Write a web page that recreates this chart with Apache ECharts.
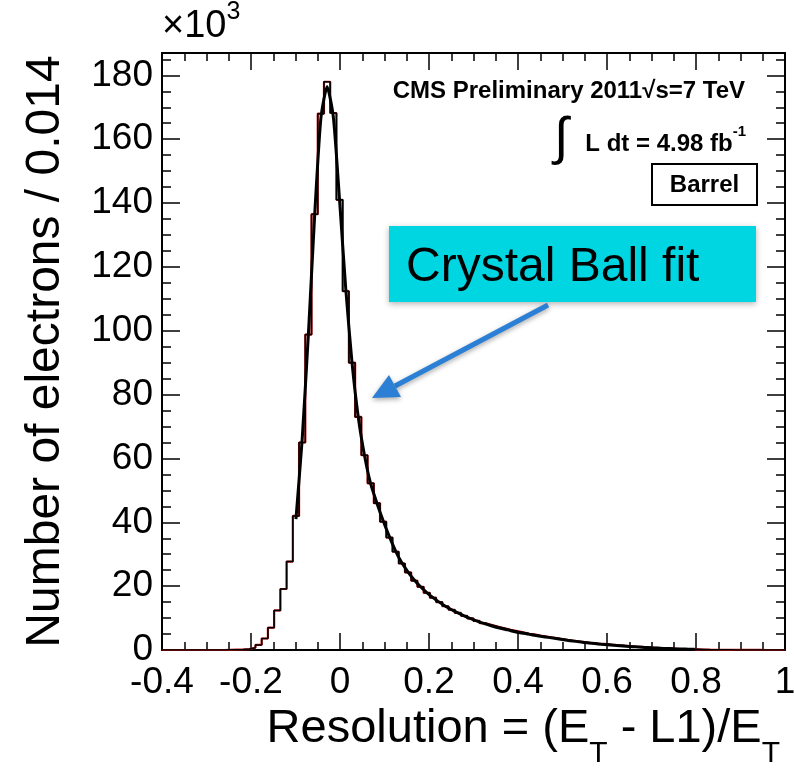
<!DOCTYPE html>
<html>
<head>
<meta charset="utf-8">
<script src="https://cdn.jsdelivr.net/npm/echarts@6/dist/echarts.min.js"></script>
<style>
  html, body { margin: 0; padding: 0; background: #fff; }
  #chart { width: 794px; height: 771px; }
</style>
</head>
<body>
<div id="chart"></div>
<script>
// binning: 100 bins of 0.014 from -0.4 to 1
var binStart = -0.4;
var binWidth = 0.014;

// electrons per bin (x1000)
var counts = [
  0, 0, 0, 0, 0, 0, 0, 0, 0, 0,
  0.05, 0.1, 0.15, 0.3, 0.7, 1.6, 3.6, 7.0, 12.4, 19.1,
  27.7, 42.0, 65.0, 98.8, 136.5, 168.0, 178.0, 168.2, 141.0, 112.4,
  90.0, 73.0, 61.0, 52.2, 46.0, 40.2, 35.2, 30.8, 27.1, 24.3,
  21.7, 19.8, 17.9, 16.4, 15.0, 13.7, 12.6, 11.6, 10.7, 9.9,
  9.1, 8.4, 7.8, 7.3, 6.8, 6.3, 5.9, 5.5, 5.1, 4.8,
  4.4, 4.1, 3.8, 3.5, 3.2, 2.9, 2.7, 2.4, 2.2, 2.0,
  1.9, 1.7, 1.5, 1.4, 1.2, 1.05, 0.95, 0.8, 0.7, 0.6,
  0.5, 0.45, 0.35, 0.3, 0.25, 0.2, 0.15, 0.1, 0.08, 0.05,
  0.04, 0.03, 0.02, 0.02, 0.01, 0.01, 0, 0, 0, 0
];

// Crystal Ball fit, value at bin centre from bin 21 on
var fitFirstBin = 21;
var fitVals = [
  41.0, 66.0, 99.0, 136.0, 166.5, 176.5, 167.0, 141.0, 113.0, 90.0,
  73.0, 61.0, 52.0, 46.0, 40.5, 35.5, 31.0, 27.3, 24.4, 21.9,
  19.8, 18.0, 16.4, 15.0, 13.7, 12.6, 11.6, 10.7, 9.9, 9.1,
  8.4, 7.8, 7.2, 6.7, 6.3, 5.8, 5.4, 5.1, 4.7, 4.4,
  4.1, 3.8, 3.5, 3.2, 2.9, 2.7, 2.4, 2.2, 2.0, 1.8,
  1.65, 1.5, 1.35, 1.2, 1.05, 0.95, 0.8, 0.7, 0.6, 0.5,
  0.45, 0.35, 0.3, 0.25, 0.2
];

var yMajor = [0, 20, 40, 60, 80, 100, 120, 140, 160, 180];
var yMinor = [];
for (var v = 0; v <= 185; v += 5) yMinor.push(v);

var histPts = [];
for (var i = 0; i < counts.length; i++) {
  histPts.push([+(binStart + i * binWidth).toFixed(4), counts[i]]);
}
histPts.push([+(binStart + counts.length * binWidth).toFixed(4), counts[counts.length - 1]]);

var fitPts = [];
for (var k = 0; k < fitVals.length; k++) {
  fitPts.push([binStart + (fitFirstBin + k + 0.5) * binWidth, fitVals[k]]);
}

var FONT = '"Liberation Sans", Arial, Helvetica, sans-serif';

var myChart = echarts.init(document.getElementById('chart'));

function xAx(pos, labels) {
  return {
    type: 'value', position: pos, min: -0.4, max: 1, interval: 0.2,
    axisLine: { show: true, onZero: false, lineStyle: { color: '#000', width: 2 } },
    axisTick: { show: true, inside: true, length: 17, lineStyle: { color: '#000', width: 1.5 } },
    minorTick: { show: true, splitNumber: 4, length: 8, lineStyle: { color: '#000', width: 1.5 } },
    axisLabel: { show: labels, color: '#000', fontFamily: FONT, fontSize: 37, margin: 14 },
    splitLine: { show: false }, minorSplitLine: { show: false }
  };
}
function yAx(pos, labels, ticks, len, line) {
  var ax = {
    type: 'value', position: pos, min: 0, max: 187,
    axisLine: { show: line, onZero: false, lineStyle: { color: '#000', width: 2 } },
    axisTick: { show: true, inside: true, length: len, customValues: ticks, lineStyle: { color: '#000', width: 1.5 } },
    axisLabel: { show: labels, customValues: yMajor, color: '#000', fontFamily: FONT, fontSize: 37, margin: 9 },
    splitLine: { show: false }
  };
  if (labels) {
    ax.name = 'Number of electrons / 0.014';
    ax.nameLocation = 'middle';
    ax.nameRotate = 90;
    ax.nameGap = 92;
    ax.nameTextStyle = { color: '#000', fontFamily: FONT, fontSize: 48 };
  }
  return ax;
}

option = {
  backgroundColor: '#fff',
  animation: false,
  grid: { left: 162, right: 9, top: 53, bottom: 121, containLabel: false, outerBoundsMode: 'none' },
  xAxis: [xAx('bottom', true), xAx('top', false)],
  yAxis: [
    yAx('left', true, yMajor, 18, true),
    yAx('right', false, yMajor, 18, true),
    yAx('left', false, yMinor, 9, false),
    yAx('right', false, yMinor, 9, false)
  ],
  series: [
    {
      name: 'fit hist', type: 'line', step: 'end', data: histPts, showSymbol: false, z: 1,
      lineStyle: { color: '#c01414', width: 2.2 }
    },
    {
      name: 'data', type: 'line', step: 'end', data: histPts, showSymbol: false, z: 2,
      lineStyle: { color: '#000', width: 1.5 }
    },
    {
      name: 'Crystal Ball', type: 'line', data: fitPts, showSymbol: false, smooth: 0.2, z: 3,
      lineStyle: { color: '#000', width: 3 }
    }
  ],
  graphic: [
    {
      type: 'text', x: 162, y: 0,
      style: {
        text: '{a|×10}{b|3}', fill: '#000',
        rich: {
          a: { fontFamily: FONT, fontSize: 38, lineHeight: 46, verticalAlign: 'bottom' },
          b: { fontFamily: FONT, fontSize: 25, lineHeight: 25, verticalAlign: 'top' }
        }
      }
    },
    {
      type: 'text', x: 780, y: 706,
      style: {
        text: '{a|Resolution = (E}{b|T}{a| - L1)/E}{b|T}', fill: '#000', textAlign: 'right', align: 'right',
        rich: {
          a: { fontFamily: FONT, fontSize: 47, lineHeight: 50, verticalAlign: 'top' },
          b: { fontFamily: FONT, fontSize: 30, lineHeight: 30, padding: [33, 0, 0, 0], verticalAlign: 'top' }
        }
      }
    },
    {
      type: 'text', x: 745, y: 91,
      style: {
        text: 'CMS Preliminary 2011√s=7 TeV', fill: '#000', textAlign: 'right', align: 'right',
        textVerticalAlign: 'middle', verticalAlign: 'middle',
        font: 'bold 24px ' + FONT
      }
    },
    {
      type: 'text', x: 554, y: 114,
      style: { text: '∫', fill: '#000', font: '52px ' + FONT }
    },
    {
      type: 'text', x: 746, y: 124,
      style: {
        text: '{a|L dt = 4.98 fb}{b|-1}', fill: '#000', textAlign: 'right', align: 'right',
        rich: {
          a: { fontFamily: FONT, fontWeight: 'bold', fontSize: 24, lineHeight: 32, verticalAlign: 'bottom' },
          b: { fontFamily: FONT, fontWeight: 'bold', fontSize: 15, lineHeight: 15, verticalAlign: 'top' }
        }
      }
    },
    {
      type: 'rect', shape: { x: 652, y: 164, width: 105, height: 41 },
      style: { fill: '#fff', stroke: '#000', lineWidth: 2 }
    },
    {
      type: 'text', x: 704.5, y: 185,
      style: {
        text: 'Barrel', fill: '#000', textAlign: 'center', align: 'center',
        textVerticalAlign: 'middle', verticalAlign: 'middle', font: 'bold 24px ' + FONT
      }
    },
    {
      type: 'rect', shape: { x: 389, y: 226, width: 367, height: 76 },
      style: { fill: '#00d6e2', shadowBlur: 6, shadowColor: 'rgba(0,0,0,0.3)', shadowOffsetY: 2 }
    },
    {
      type: 'text', x: 406, y: 268,
      style: {
        text: 'Crystal Ball fit', fill: '#000', textVerticalAlign: 'middle', verticalAlign: 'middle',
        font: '48px ' + FONT
      }
    },
    {
      type: 'polyline', shape: { points: [[548, 305], [395, 386]] },
      style: { stroke: '#2b80d6', lineWidth: 5, shadowBlur: 5, shadowColor: 'rgba(0,0,0,0.35)', shadowOffsetY: 2 }
    },
    {
      type: 'polygon', shape: { points: [[372, 398], [389, 375], [401, 397]] },
      style: { fill: '#2b80d6', shadowBlur: 5, shadowColor: 'rgba(0,0,0,0.35)', shadowOffsetY: 2 }
    }
  ]
};

myChart.setOption(option);
</script>
</body>
</html>
